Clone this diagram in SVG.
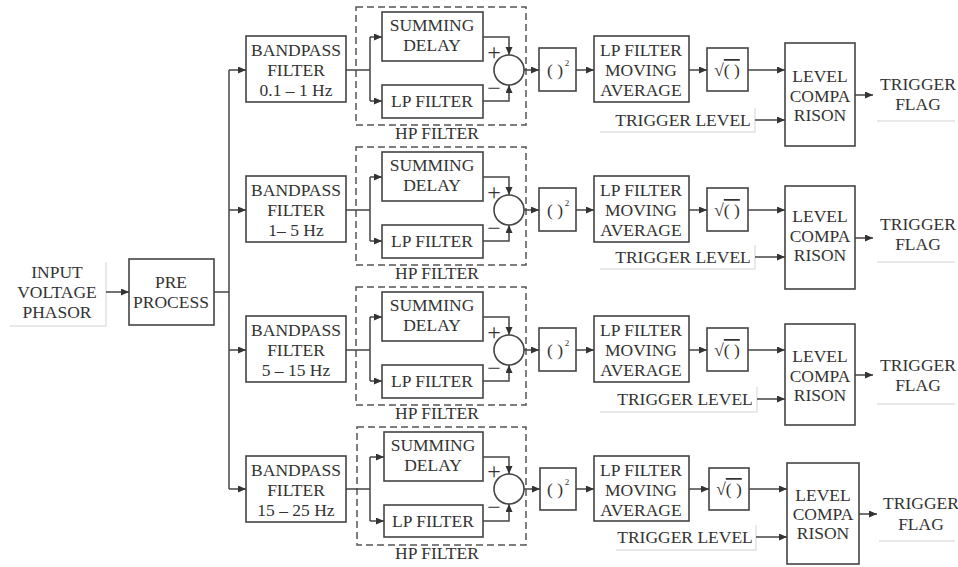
<svg xmlns="http://www.w3.org/2000/svg" width="958" height="567" viewBox="0 0 958 567">
<style>
.box{fill:#fff;stroke:#444;stroke-width:1.6}
.dash{fill:none;stroke:#555;stroke-width:1.5;stroke-dasharray:7 4}
.ln{fill:none;stroke:#444;stroke-width:1.5}
.arr{marker-end:url(#ah)}
.faint{fill:none;stroke:#e2e2e2;stroke-width:1.5}
text{font-family:"Liberation Serif","DejaVu Serif",serif;font-size:17.5px;fill:#333;text-anchor:middle}
.sign{font-size:24px}
.sup{font-size:9px}
</style>
<defs>
<marker id="ah" markerUnits="userSpaceOnUse" markerWidth="9" markerHeight="8" refX="8" refY="3.5" orient="auto">
<path d="M0,0 L8,3.5 L0,7 z" fill="#333"/>
</marker>
</defs>
<rect width="958" height="567" fill="#fff"/>

<g id="input">
<path class="faint" d="M106,262 V326 H10"/>
<text x="57" y="278">INPUT</text>
<text x="57" y="298">VOLTAGE</text>
<text x="57" y="318">PHASOR</text>
</g>
<g id="preprocess">
<rect class="box" x="129" y="259" width="85" height="66"/>
<text x="171" y="288">PRE</text>
<text x="171" y="308">PROCESS</text>
</g>

<!-- Row 1 -->
<g id="row1" transform="translate(0,70)">
<g id="bp1"><rect class="box" x="246" y="-34" width="100" height="66"/><text x="296" y="-14">BANDPASS</text><text x="296" y="6">FILTER</text><text x="296" y="26">0.1 – 1 Hz</text></g>
<g id="hp1"><rect class="dash" x="356" y="-63" width="170" height="118"/><text x="437" y="69">HP FILTER</text></g>
<g id="sd1"><rect class="box" x="382" y="-58" width="101" height="49"/><text x="432" y="-39">SUMMING</text><text x="432" y="-19">DELAY</text></g>
<g id="lp1"><rect class="box" x="382" y="15" width="101" height="33"/><text x="432" y="37">LP FILTER</text></g>
<g id="sum1"><circle class="box" cx="509" cy="0" r="15"/><text class="sign" x="494" y="-10">+</text><text class="sign" x="494" y="26">−</text></g>
<g id="sq1"><rect class="box" x="539" y="-22" width="37" height="43"/><text x="555" y="6">( )</text><text class="sup" x="567" y="-4">2</text></g>
<g id="ma1"><rect class="box" x="594" y="-34" width="95" height="66"/><text x="641" y="-14">LP FILTER</text><text x="641" y="6">MOVING</text><text x="641" y="26">AVERAGE</text></g>
<g id="rt1"><rect class="box" x="707" y="-22" width="41" height="43"/><text x="727" y="6">√<tspan text-decoration="overline">( )</tspan></text></g>
<g id="lc1"><rect class="box" x="785" y="-27" width="70" height="103"/><text x="820" y="12">LEVEL</text><text x="820" y="32">COMPA</text><text x="820" y="51">RISON</text></g>
<g id="tl1"><path class="faint" d="M755,38 V62 H600"/><text x="683" y="56">TRIGGER LEVEL</text></g>
<g id="tf1"><path class="faint" d="M877,51 H955"/><text x="918" y="20">TRIGGER</text><text x="918" y="40">FLAG</text></g>
</g>

<!-- Row 2 -->
<g id="row2" transform="translate(0,210)">
<g id="bp2"><rect class="box" x="246" y="-34" width="100" height="66"/><text x="296" y="-14">BANDPASS</text><text x="296" y="6">FILTER</text><text x="296" y="26">1– 5 Hz</text></g>
<g id="hp2"><rect class="dash" x="356" y="-63" width="170" height="118"/><text x="437" y="69">HP FILTER</text></g>
<g id="sd2"><rect class="box" x="382" y="-58" width="101" height="49"/><text x="432" y="-39">SUMMING</text><text x="432" y="-19">DELAY</text></g>
<g id="lp2"><rect class="box" x="382" y="15" width="101" height="33"/><text x="432" y="37">LP FILTER</text></g>
<g id="sum2"><circle class="box" cx="509" cy="0" r="15"/><text class="sign" x="494" y="-10">+</text><text class="sign" x="494" y="26">−</text></g>
<g id="sq2"><rect class="box" x="539" y="-22" width="37" height="43"/><text x="555" y="6">( )</text><text class="sup" x="567" y="-4">2</text></g>
<g id="ma2"><rect class="box" x="594" y="-34" width="95" height="66"/><text x="641" y="-14">LP FILTER</text><text x="641" y="6">MOVING</text><text x="641" y="26">AVERAGE</text></g>
<g id="rt2"><rect class="box" x="707" y="-22" width="41" height="43"/><text x="727" y="6">√<tspan text-decoration="overline">( )</tspan></text></g>
<g id="lc2"><rect class="box" x="785" y="-24" width="70" height="103"/><text x="820" y="12">LEVEL</text><text x="820" y="32">COMPA</text><text x="820" y="51">RISON</text></g>
<g id="tl2"><path class="faint" d="M755,35 V59 H600"/><text x="683" y="53">TRIGGER LEVEL</text></g>
<g id="tf2"><path class="faint" d="M877,52 H955"/><text x="918" y="20">TRIGGER</text><text x="918" y="40">FLAG</text></g>
</g>

<!-- Row 3 -->
<g id="row3" transform="translate(0,350)">
<g id="bp3"><rect class="box" x="246" y="-34" width="100" height="66"/><text x="296" y="-14">BANDPASS</text><text x="296" y="6">FILTER</text><text x="296" y="26">5 – 15 Hz</text></g>
<g id="hp3"><rect class="dash" x="356" y="-63" width="170" height="118"/><text x="437" y="69">HP FILTER</text></g>
<g id="sd3"><rect class="box" x="382" y="-58" width="101" height="49"/><text x="432" y="-39">SUMMING</text><text x="432" y="-19">DELAY</text></g>
<g id="lp3"><rect class="box" x="382" y="15" width="101" height="33"/><text x="432" y="37">LP FILTER</text></g>
<g id="sum3"><circle class="box" cx="509" cy="0" r="15"/><text class="sign" x="494" y="-10">+</text><text class="sign" x="494" y="26">−</text></g>
<g id="sq3"><rect class="box" x="539" y="-22" width="37" height="43"/><text x="555" y="6">( )</text><text class="sup" x="567" y="-4">2</text></g>
<g id="ma3"><rect class="box" x="594" y="-34" width="95" height="66"/><text x="641" y="-14">LP FILTER</text><text x="641" y="6">MOVING</text><text x="641" y="26">AVERAGE</text></g>
<g id="rt3"><rect class="box" x="707" y="-22" width="41" height="43"/><text x="727" y="6">√<tspan text-decoration="overline">( )</tspan></text></g>
<g id="lc3"><rect class="box" x="785" y="-26" width="70" height="101"/><text x="820" y="12">LEVEL</text><text x="820" y="32">COMPA</text><text x="820" y="51">RISON</text></g>
<g id="tl3"><path class="faint" d="M757,37 V62 H600"/><text x="685" y="55">TRIGGER LEVEL</text></g>
<g id="tf3"><path class="faint" d="M877,54 H955"/><text x="918" y="21">TRIGGER</text><text x="918" y="41">FLAG</text></g>
</g>

<!-- Row 4 -->
<g id="row4" transform="translate(0,489)">
<g id="bp4"><rect class="box" x="246" y="-33" width="100" height="66"/><text x="296" y="-13">BANDPASS</text><text x="296" y="7">FILTER</text><text x="296" y="27">15 – 25 Hz</text></g>
<g id="hp4"><rect class="dash" x="357" y="-62" width="169" height="118"/><text x="437" y="70">HP FILTER</text></g>
<g id="sd4"><rect class="box" x="384" y="-57" width="99" height="49"/><text x="433" y="-38">SUMMING</text><text x="433" y="-18">DELAY</text></g>
<g id="lp4"><rect class="box" x="384" y="16" width="99" height="32"/><text x="433" y="38">LP FILTER</text></g>
<g id="sum4"><circle class="box" cx="509" cy="0" r="15"/><text class="sign" x="494" y="-10">+</text><text class="sign" x="494" y="26">−</text></g>
<g id="sq4"><rect class="box" x="540" y="-21" width="36" height="42"/><text x="555" y="6">( )</text><text class="sup" x="567" y="-4">2</text></g>
<g id="ma4"><rect class="box" x="594" y="-33" width="95" height="65"/><text x="641" y="-13">LP FILTER</text><text x="641" y="7">MOVING</text><text x="641" y="27">AVERAGE</text></g>
<g id="rt4"><rect class="box" x="709" y="-21" width="40" height="42"/><text x="729" y="6">√<tspan text-decoration="overline">( )</tspan></text></g>
<g id="lc4"><rect class="box" x="787" y="-26" width="72" height="101"/><text x="823" y="12">LEVEL</text><text x="823" y="31">COMPA</text><text x="823" y="50">RISON</text></g>
<g id="tl4"><path class="faint" d="M756,36 V61 H616"/><text x="685" y="54">TRIGGER LEVEL</text></g>
<g id="tf4"><path class="faint" d="M879,52 H955"/><text x="921" y="20">TRIGGER</text><text x="921" y="41">FLAG</text></g>
</g>

<g id="connectors">
<path class="ln arr" d="M106,292 H129"/>
<path class="ln" d="M214,292 H229"/>
<path class="ln" d="M229,70 V489"/>
<g transform="translate(0,70)">
<path class="ln arr" d="M229,0 H246"/><path class="ln" d="M346,0 H370 M370,-33 V31"/>
<path class="ln arr" d="M370,-33 H382"/><path class="ln arr" d="M370,31 H382"/>
<path class="ln arr" d="M483,-33 H509 V-15"/><path class="ln arr" d="M483,31 H509 V15"/>
<path class="ln arr" d="M524,0 H539"/><path class="ln arr" d="M576,0 H594"/><path class="ln arr" d="M689,0 H707"/>
<path class="ln arr" d="M748,0 H785"/><path class="ln arr" d="M855,25 H873"/><path class="ln arr" d="M755,50 H785"/>
</g>
<g transform="translate(0,210)">
<path class="ln arr" d="M229,0 H246"/><path class="ln" d="M346,0 H370 M370,-33 V31"/>
<path class="ln arr" d="M370,-33 H382"/><path class="ln arr" d="M370,31 H382"/>
<path class="ln arr" d="M483,-33 H509 V-15"/><path class="ln arr" d="M483,31 H509 V15"/>
<path class="ln arr" d="M524,0 H539"/><path class="ln arr" d="M576,0 H594"/><path class="ln arr" d="M689,0 H707"/>
<path class="ln arr" d="M748,0 H785"/><path class="ln arr" d="M855,28 H873"/><path class="ln arr" d="M755,47 H785"/>
</g>
<g transform="translate(0,350)">
<path class="ln arr" d="M229,0 H246"/><path class="ln" d="M346,0 H370 M370,-33 V31"/>
<path class="ln arr" d="M370,-33 H382"/><path class="ln arr" d="M370,31 H382"/>
<path class="ln arr" d="M483,-33 H509 V-15"/><path class="ln arr" d="M483,31 H509 V15"/>
<path class="ln arr" d="M524,0 H539"/><path class="ln arr" d="M576,0 H594"/><path class="ln arr" d="M689,0 H707"/>
<path class="ln arr" d="M748,0 H785"/><path class="ln arr" d="M855,25 H873"/><path class="ln arr" d="M757,49 H785"/>
</g>
<g transform="translate(0,489)">
<path class="ln arr" d="M229,0 H246"/><path class="ln" d="M346,0 H370 M370,-32 V32"/>
<path class="ln arr" d="M370,-32 H384"/><path class="ln arr" d="M370,32 H384"/>
<path class="ln arr" d="M483,-32 H509 V-15"/><path class="ln arr" d="M483,32 H509 V15"/>
<path class="ln arr" d="M524,0 H540"/><path class="ln arr" d="M576,0 H594"/><path class="ln arr" d="M689,0 H709"/>
<path class="ln arr" d="M749,0 H787"/><path class="ln arr" d="M859,25 H877"/><path class="ln arr" d="M756,48 H787"/>
</g>
</g>
</svg>
